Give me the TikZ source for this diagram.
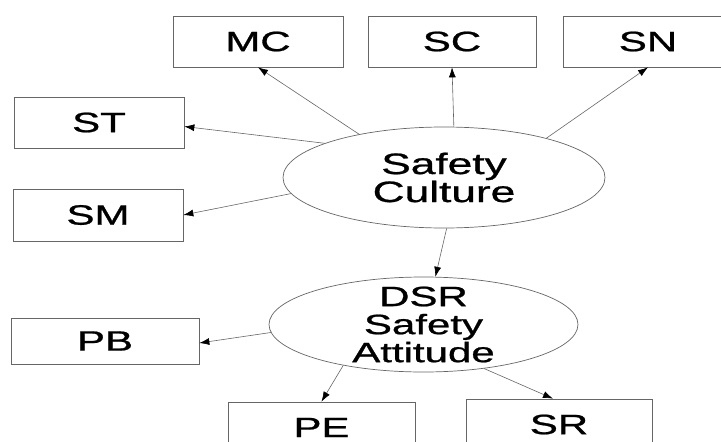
\documentclass[tikz,border=0pt]{standalone}
\usepackage{fontspec}
\setmainfont{Liberation Sans}[FakeBold=0.8]
\usetikzlibrary{arrows.meta,shapes.geometric}
\def\widetext#1{\scalebox{1.5}[1]{#1}}
\def\tightlines{\lineskiplimit=-20pt\relax}
\tikzset{
	factor/.style={rectangle, draw=black!60, line width=0.7pt, minimum width=170pt, minimum height=51pt, inner sep=0pt, font=\fontsize{28}{28}\selectfont},
	construct/.style={ellipse, draw=black!60, line width=0.7pt, inner sep=-8pt, align=center},
	link/.style={draw=black!60, line width=0.6pt, -{Latex[length=10pt,width=7pt,color=black]}}
}

\begin{document}
\begin{tikzpicture}[x=1pt, y=-1pt]
		%%%%% START %%%%%
		
		\useasboundingbox (0, 0) rectangle (721, 442);
		\clip (0, 0) rectangle (721, 442);
		
		\node[construct, minimum width=322pt, minimum height=101pt, font={\fontsize{29.5}{28}\selectfont\tightlines}] (culture) at (444, 177.5) {\widetext{Safety}\\\widetext{Culture}};
		\node[construct, minimum width=309pt, minimum height=95pt, font={\fontsize{28}{28}\selectfont\tightlines}] (attitude) at (423.5, 324.5) {\widetext{DSR}\\\widetext{Safety}\\\widetext{Attitude}};
		
		\node[factor] (mc) at (258, 41.5) {\widetext{MC}};
		\node[factor, minimum width=168pt] (sc) at (452, 41.5) {\widetext{SC}};
		\node[factor] (sn) at (648, 41.5) {\widetext{SN}};
		\node[factor] (st) at (99, 122.5) {\widetext{ST}};
		\node[factor, minimum height=52pt] (sm) at (98, 215) {\widetext{SM}};
		
		\node[factor, minimum width=188pt, minimum height=46pt] (pb) at (105, 341) {\widetext{PB}};
		\node[factor, minimum width=187pt] (pe) at (321.5, 427.5) {\widetext{PE}};
		\node[factor, minimum width=186pt] (sr) at (559, 424.5) {\widetext{SR}};
		
		\draw[link] (culture.153) -- (mc.south);
		\draw[link] (culture.79) -- (sc.south);
		\draw[link] (culture.21) -- (sn.south);
		\draw[link] (culture.164.5) -- ([yshift=-4pt]st.east);
		\draw[link] (culture.186) -- (sm.east);
		\draw[link] (culture.273) -- (attitude.76);
		
		\draw[link] (attitude.183) -- ([yshift=-2pt]pb.east);
		\draw[link] (attitude.207) -- (pe.north);
		\draw[link] (attitude.324) -- ([xshift=-6pt]sr.north);
		
		%%%%% END %%%%%
\end{tikzpicture}
\end{document}
